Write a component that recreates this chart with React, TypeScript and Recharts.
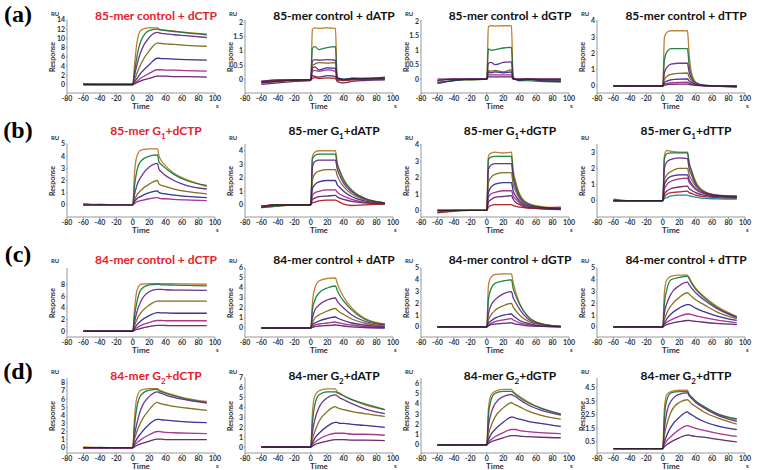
import React from "react";
import { LineChart, Line, XAxis, YAxis } from "recharts";

// sampling times (s) used for every sensorgram
const timePoints = [-60, -40, -20, 0, 2, 5, 10, 20, 30, 32, 35, 40, 50, 65, 90];
const xTicks = [-80, -60, -40, -20, 0, 20, 40, 60, 80, 100];

const rowLabels = ["(a)", "(b)", "(c)", "(d)"];

const titles = [
  "85-mer control + dCTP", "85-mer control + dATP", "85-mer control + dGTP", "85-mer control + dTTP",
  "85-mer G_1+dCTP", "85-mer G_1+dATP", "85-mer G_1+dGTP", "85-mer G_1+dTTP",
  "84-mer control + dCTP", "84-mer control + dATP", "84-mer control + dGTP", "84-mer control + dTTP",
  "84-mer G_2+dCTP", "84-mer G_2+dATP", "84-mer G_2+dGTP", "84-mer G_2+dTTP",
];

const yDomains: [number, number][] = [
  [-1.85, 14], [-0.45, 2.07], [-0.48, 2.05], [-0.43, 4.06],
  [-1, 5], [-0.9, 4.5], [-0.4, 4.05], [-1, 3.5],
  [-1, 10.9], [-0.9, 6], [-0.85, 5], [-0.85, 5],
  [-0.65, 8.6], [-0.6, 7], [-0.78, 6.5], [-0.32, 5.2],
];

const yTicks: number[][] = [
  [0, 2, 4, 6, 8, 10, 12, 14], [0, 0.5, 1, 1.5, 2], [0, 0.5, 1, 1.5, 2], [0, 1, 2, 3, 4],
  [0, 1, 2, 3, 4, 5], [0, 1, 2, 3, 4], [0, 1, 2, 3, 4], [0, 1, 2, 3],
  [0, 2, 4, 6, 8], [0, 1, 2, 3, 4, 5, 6], [0, 1, 2, 3, 4, 5], [0, 1, 2, 3, 4, 5],
  [0, 1, 2, 3, 4, 5, 6, 7, 8], [0, 1, 2, 3, 4, 5, 6, 7], [0, 1, 2, 3, 4, 5, 6], [0.5, 1.5, 2.5, 3.5, 4.5],
];

// RU responses at timePoints, one row per concentration
const a1 = [
  [0.1, 0, 0, 0, 4.0, 9.0, 11.8, 12.3, 12.3, 12.0, 11.9, 11.8, 11.6, 11.3, 10.9],
  [0.1, 0, 0, 0, 2.5, 6.0, 9.5, 11.7, 12.0, 11.9, 11.8, 11.7, 11.5, 11.2, 10.8],
  [0, 0, 0, 0, 1.8, 4.2, 7.2, 10.2, 11.3, 11.2, 11.1, 11.0, 10.8, 10.6, 10.2],
  [0, 0, 0, 0, 1.0, 2.4, 4.5, 7.3, 9.0, 9.0, 8.9, 8.8, 8.7, 8.5, 8.3],
  [0, 0, 0, 0, 0.6, 1.3, 2.5, 4.3, 5.7, 5.7, 5.6, 5.6, 5.5, 5.4, 5.3],
  [0, 0, 0, 0, 0.3, 0.7, 1.4, 2.4, 3.2, 3.2, 3.2, 3.1, 3.1, 3.0, 2.9],
  [0, 0, 0, 0, 0.15, 0.4, 0.8, 1.3, 1.8, 1.8, 1.8, 1.8, 1.7, 1.7, 1.6],
];
const a2 = [
  [-0.1, -0.05, 0, 0, 1.75, 1.8, 1.78, 1.8, 1.78, 0.1, 0.05, 0.02, 0.05, 0.05, 0.08],
  [-0.05, -0.05, 0, 0, 1.1, 1.15, 1.05, 1.12, 1.15, 0.08, 0.05, 0.02, 0.05, 0.05, 0.08],
  [-0.08, 0, -0.02, 0, 0.65, 0.7, 0.68, 0.7, 0.68, 0.05, 0.03, 0, 0.03, 0.05, 0.05],
  [-0.05, -0.02, 0, 0, 0.5, 0.55, 0.6, 0.58, 0.6, 0.05, 0.02, 0, 0.02, 0.05, 0.05],
  [-0.1, -0.05, 0, 0, 0.4, 0.45, 0.35, 0.42, 0.4, 0.05, 0.05, 0.02, 0.06, 0.04, 0.1],
  [-0.05, 0, 0, 0, 0.3, 0.33, 0.3, 0.35, 0.3, 0.02, 0, 0, 0.02, 0.03, 0.05],
  [-0.15, -0.1, -0.05, -0.02, 0.15, 0.12, 0.1, 0.15, 0.12, -0.05, -0.08, -0.1, -0.05, -0.02, 0],
  [-0.05, -0.02, 0, 0, 0.05, 0.08, 0.05, 0.07, 0.05, -0.02, 0, -0.02, 0, 0.02, 0.02],
];
const a3 = [
  [-0.1, -0.05, 0, 0, 1.82, 1.85, 1.84, 1.85, 1.85, 0.1, 0, -0.02, 0, -0.05, -0.05],
  [-0.12, -0.05, -0.02, 0, 1.05, 1.0, 1.02, 1.08, 1.1, 0.05, -0.02, -0.05, -0.05, -0.08, -0.1],
  [-0.05, 0, 0, 0, 0.55, 0.58, 0.5, 0.58, 0.6, 0.05, 0, -0.02, 0, -0.02, -0.03],
  [-0.05, 0, -0.02, 0, 0.3, 0.28, 0.3, 0.25, 0.33, 0.03, 0, 0, 0.02, 0, 0],
  [-0.15, -0.05, 0, 0, 0.25, 0.22, 0.25, 0.22, 0.25, 0.02, 0, -0.05, 0, -0.05, -0.08],
  [-0.05, 0, 0, 0, 0.15, 0.15, 0.15, 0.15, 0.15, 0, 0, 0, 0, 0, 0],
  [0, 0, 0, 0, 0.08, 0.08, 0.08, 0.08, 0.08, 0, 0, 0, 0, 0, 0],
];
const a4 = [
  [0, 0, 0, 0, 3.0, 3.3, 3.4, 3.4, 3.4, 2.0, 0.8, 0.25, 0.05, 0, -0.05],
  [0, 0, 0, 0, 1.6, 2.1, 2.3, 2.3, 2.3, 1.3, 0.6, 0.2, 0.05, 0, -0.05],
  [0, 0, 0, 0, 0.8, 1.15, 1.35, 1.4, 1.4, 0.85, 0.45, 0.15, 0.03, 0, -0.05],
  [0, 0, 0, 0, 0.4, 0.6, 0.72, 0.78, 0.8, 0.55, 0.3, 0.12, 0.02, 0, -0.05],
  [0, 0, 0, 0, 0.2, 0.3, 0.38, 0.42, 0.43, 0.3, 0.2, 0.08, 0.02, 0, 0],
  [0, 0, 0, 0, 0.1, 0.15, 0.2, 0.22, 0.23, 0.18, 0.12, 0.05, 0.02, 0, 0],
  [0, 0, 0, 0, 0.05, 0.08, 0.1, 0.12, 0.12, 0.1, 0.07, 0.04, 0.02, 0, 0],
];
const b1 = [
  [0, 0.05, 0, 0, 2.5, 4.0, 4.5, 4.6, 4.6, 4.0, 3.6, 3.2, 2.6, 2.1, 1.5],
  [0.1, 0, 0, 0, 1.5, 2.8, 3.6, 4.0, 4.1, 3.5, 3.3, 3.0, 2.5, 2.0, 1.6],
  [0, 0, 0, 0, 0.8, 1.6, 2.3, 3.1, 3.4, 2.9, 2.7, 2.4, 2.0, 1.6, 1.3],
  [0, 0, 0, 0, 0.4, 0.8, 1.2, 1.7, 2.0, 1.7, 1.6, 1.5, 1.3, 1.1, 0.9],
  [0, 0, 0, 0, 0.25, 0.5, 0.7, 1.0, 1.15, 1.0, 0.95, 0.9, 0.8, 0.7, 0.6],
  [0, 0, 0, 0, 0.1, 0.25, 0.35, 0.5, 0.6, 0.55, 0.5, 0.5, 0.45, 0.4, 0.35],
];
const b2 = [
  [-0.2, -0.1, 0, 0, 3.6, 3.9, 4.0, 4.0, 4.0, 3.2, 2.6, 1.9, 1.1, 0.5, 0.15],
  [-0.2, -0.1, 0, 0, 3.4, 3.65, 3.75, 3.75, 3.75, 3.0, 2.5, 1.8, 1.05, 0.5, 0.15],
  [-0.1, 0, 0, 0, 2.8, 3.2, 3.3, 3.3, 3.3, 2.7, 2.2, 1.6, 0.95, 0.45, 0.15],
  [-0.1, 0, 0, 0, 1.8, 2.3, 2.5, 2.6, 2.6, 2.2, 1.8, 1.35, 0.8, 0.4, 0.12],
  [-0.15, 0, 0, 0, 1.2, 1.5, 1.7, 1.8, 1.8, 1.5, 1.3, 1.0, 0.6, 0.3, 0.1],
  [-0.1, 0, 0, 0, 0.7, 0.9, 1.0, 1.1, 1.1, 0.95, 0.8, 0.65, 0.4, 0.2, 0.08],
  [-0.1, 0, 0, 0, 0.4, 0.5, 0.6, 0.65, 0.7, 0.6, 0.5, 0.4, 0.25, 0.15, 0.05],
  [-0.2, 0, 0, 0, 0.15, 0.2, 0.3, 0.35, 0.35, 0.3, 0.2, 0.05, -0.05, 0, 0.05],
];
const b3 = [
  [-0.1, 0, 0, 0, 3.3, 3.5, 3.55, 3.5, 3.55, 2.5, 1.8, 1.0, 0.45, 0.25, 0.15],
  [-0.1, 0, 0, 0, 3.1, 3.25, 3.3, 3.3, 3.3, 2.3, 1.6, 0.9, 0.4, 0.2, 0.1],
  [0, 0, 0, 0, 2.5, 2.75, 2.85, 2.85, 2.85, 2.0, 1.4, 0.8, 0.35, 0.2, 0.1],
  [0, 0, 0, 0, 1.7, 2.0, 2.2, 2.3, 2.3, 1.6, 1.2, 0.7, 0.3, 0.2, 0.1],
  [0, 0, 0, 0, 1.1, 1.4, 1.6, 1.7, 1.7, 1.2, 0.9, 0.55, 0.25, 0.15, 0.1],
  [0, 0, 0, 0, 0.8, 1.0, 1.1, 1.2, 1.2, 0.9, 0.7, 0.45, 0.2, 0.12, 0.08],
  [0, 0, 0, 0, 0.5, 0.65, 0.8, 0.85, 0.9, 0.7, 0.5, 0.35, 0.15, 0.1, 0.05],
  [-0.15, -0.05, 0, 0, 0.2, 0.3, 0.35, 0.35, 0.35, 0.3, 0.25, 0.2, 0.15, 0.15, 0.2],
];
const b4 = [
  [0, 0, 0, 0, 2.8, 3.1, 3.05, 3.0, 3.0, 2.4, 1.9, 1.2, 0.6, 0.35, 0.25],
  [0, 0, 0, 0, 2.6, 2.9, 2.95, 2.95, 2.95, 2.3, 1.8, 1.1, 0.55, 0.33, 0.25],
  [0.1, 0, 0, 0, 2.0, 2.4, 2.55, 2.65, 2.6, 2.0, 1.6, 1.0, 0.55, 0.35, 0.3],
  [0, 0, 0, 0, 1.3, 1.6, 1.8, 2.0, 2.0, 1.6, 1.3, 0.9, 0.5, 0.3, 0.25],
  [0, 0, 0, 0, 1.0, 1.3, 1.5, 1.6, 1.6, 1.3, 1.05, 0.75, 0.45, 0.3, 0.25],
  [0, 0, 0, 0, 0.7, 1.0, 1.2, 1.35, 1.4, 1.15, 0.95, 0.7, 0.45, 0.3, 0.25],
  [0, 0, 0, 0, 0.4, 0.6, 0.75, 0.85, 0.9, 0.75, 0.65, 0.5, 0.35, 0.25, 0.2],
  [0, 0, 0, 0, 0.25, 0.4, 0.5, 0.55, 0.6, 0.5, 0.45, 0.35, 0.25, 0.2, 0.15],
  [0, 0, 0, 0, 0.15, 0.2, 0.3, 0.35, 0.35, 0.3, 0.28, 0.22, 0.15, 0.12, 0.1],
];
const c1 = [
  [0, 0, 0, 0, 3.5, 7.0, 8.1, 8.2, 8.2, 8.2, 8.2, 8.2, 8.2, 8.15, 8.1],
  [0, 0, 0, 0, 2.5, 5.0, 7.2, 8.0, 8.1, 8.1, 8.0, 8.0, 7.95, 7.9, 7.8],
  [0, 0, 0, 0, 1.5, 3.3, 5.2, 6.8, 7.2, 7.2, 7.2, 7.15, 7.1, 7.1, 7.05],
  [0, 0, 0, 0, 0.9, 2.0, 3.2, 4.5, 5.2, 5.2, 5.2, 5.2, 5.2, 5.2, 5.2],
  [0, 0, 0, 0, 0.5, 1.1, 1.8, 2.7, 3.2, 3.2, 3.15, 3.15, 3.1, 3.1, 3.1],
  [0, 0, 0, 0, 0.3, 0.6, 1.0, 1.5, 1.85, 1.85, 1.85, 1.8, 1.8, 1.8, 1.8],
  [0, 0, 0, 0, 0.15, 0.3, 0.5, 0.8, 1.0, 1.0, 1.0, 0.98, 0.95, 0.95, 0.95],
];
const c2 = [
  [0, 0, 0, 0, 2.5, 4.0, 4.7, 4.95, 5.0, 4.5, 3.9, 3.1, 2.0, 1.0, 0.4],
  [0, 0, 0, 0, 1.8, 2.8, 3.5, 4.0, 4.2, 3.8, 3.3, 2.7, 1.8, 0.9, 0.35],
  [0, 0, 0, 0, 1.0, 1.8, 2.3, 2.8, 3.0, 2.7, 2.4, 2.0, 1.3, 0.7, 0.3],
  [0, 0, 0, 0, 0.5, 1.0, 1.3, 1.7, 1.95, 1.8, 1.6, 1.35, 0.9, 0.5, 0.2],
  [0, 0, 0, 0, 0.3, 0.5, 0.7, 0.95, 1.1, 1.0, 0.9, 0.75, 0.5, 0.3, 0.1],
  [0, 0, 0, 0, 0.15, 0.3, 0.4, 0.5, 0.6, 0.55, 0.5, 0.42, 0.3, 0.15, 0.05],
  [0, 0, 0, 0, 0.05, 0.15, 0.2, 0.25, 0.3, 0.28, 0.25, 0.2, 0.12, 0.05, 0],
];
const c3 = [
  [0, 0, 0, 0, 3.5, 4.2, 4.45, 4.5, 4.5, 3.8, 3.0, 2.0, 0.9, 0.3, 0.05],
  [0, 0, 0, 0, 2.3, 3.2, 3.7, 3.9, 4.0, 3.3, 2.7, 1.9, 0.9, 0.3, 0.05],
  [0, 0, 0, 0, 1.1, 1.8, 2.3, 2.8, 3.0, 2.5, 2.1, 1.5, 0.7, 0.25, 0.05],
  [0, 0, 0, 0, 0.6, 1.0, 1.4, 1.8, 2.0, 1.7, 1.4, 1.0, 0.5, 0.2, 0.05],
  [0, 0, 0, 0, 0.3, 0.5, 0.75, 1.0, 1.1, 0.95, 0.8, 0.55, 0.3, 0.1, 0.02],
  [0, 0, 0, 0, 0.15, 0.3, 0.45, 0.6, 0.7, 0.6, 0.5, 0.35, 0.2, 0.08, 0.02],
  [0, 0, 0, 0, 0.1, 0.2, 0.25, 0.3, 0.35, 0.3, 0.25, 0.2, 0.1, 0.05, 0.02],
];
const c4 = [
  [0, 0, 0, 0, 3.0, 4.0, 4.3, 4.4, 4.4, 4.2, 3.8, 3.3, 2.6, 1.8, 0.9],
  [0, 0, 0, 0, 2.0, 3.2, 4.0, 4.2, 4.3, 4.1, 3.7, 3.2, 2.5, 1.7, 0.85],
  [0, 0, 0, 0, 1.2, 2.0, 2.8, 3.5, 3.8, 3.6, 3.3, 2.9, 2.3, 1.6, 0.8],
  [0, 0, 0, 0, 0.6, 1.2, 1.8, 2.5, 2.9, 2.8, 2.6, 2.3, 1.9, 1.3, 0.7],
  [0, 0, 0, 0, 0.3, 0.7, 1.1, 1.6, 1.9, 1.9, 1.8, 1.6, 1.3, 0.95, 0.55],
  [0, 0, 0, 0, 0.2, 0.4, 0.6, 0.9, 1.1, 1.1, 1.05, 0.95, 0.8, 0.6, 0.35],
  [0, 0, 0, 0, 0.1, 0.2, 0.3, 0.45, 0.55, 0.55, 0.52, 0.48, 0.4, 0.3, 0.2],
];
const d1 = [
  [0.1, 0, 0, 0, 3.5, 6.2, 7.1, 7.3, 7.3, 7.1, 7.0, 6.8, 6.5, 6.1, 5.7],
  [0, 0.05, 0, 0, 2.5, 5.0, 6.5, 7.1, 7.2, 7.0, 6.9, 6.7, 6.4, 6.0, 5.6],
  [0, 0, 0, 0, 1.5, 3.0, 4.8, 6.3, 6.9, 6.8, 6.7, 6.5, 6.2, 5.9, 5.5],
  [0, 0, 0, 0, 1.0, 2.0, 3.2, 4.7, 5.6, 5.5, 5.4, 5.3, 5.1, 4.9, 4.6],
  [0, 0, 0, 0, 0.5, 1.1, 1.8, 2.9, 3.5, 3.5, 3.45, 3.4, 3.3, 3.2, 3.1],
  [0, 0, 0, 0, 0.3, 0.6, 1.0, 1.6, 2.0, 2.0, 1.95, 1.9, 1.85, 1.8, 1.75],
  [0, 0, 0, 0, 0.1, 0.3, 0.5, 0.8, 1.05, 1.05, 1.05, 1.0, 1.0, 1.0, 1.0],
];
const d2 = [
  [0, 0, 0, 0, 3.5, 5.2, 5.7, 5.9, 5.9, 5.6, 5.5, 5.2, 4.8, 4.3, 3.8],
  [0, 0, 0, 0, 2.5, 4.3, 5.3, 5.6, 5.6, 5.5, 5.4, 5.2, 4.8, 4.4, 3.8],
  [0, 0, 0, 0, 1.5, 2.8, 4.0, 5.0, 5.3, 5.2, 5.0, 4.8, 4.4, 3.9, 3.4],
  [0, 0, 0, 0, 0.8, 1.6, 2.6, 3.6, 4.1, 4.0, 3.9, 3.8, 3.6, 3.4, 3.1],
  [0, 0, 0, 0, 0.4, 0.9, 1.4, 2.1, 2.5, 2.5, 2.4, 2.4, 2.3, 2.2, 2.0],
  [0, 0, 0, 0, 0.2, 0.5, 0.8, 1.2, 1.4, 1.4, 1.4, 1.4, 1.3, 1.3, 1.2],
  [0, 0, 0, 0, 0.1, 0.25, 0.4, 0.6, 0.75, 0.75, 0.75, 0.75, 0.7, 0.7, 0.65],
];
const d3 = [
  [0, 0, 0, 0, 3.5, 4.8, 5.2, 5.4, 5.4, 5.2, 5.0, 4.7, 4.2, 3.6, 3.0],
  [0, 0, 0, 0, 2.8, 4.3, 5.0, 5.2, 5.2, 5.1, 4.9, 4.6, 4.1, 3.6, 3.0],
  [0, 0, 0, 0, 1.8, 3.0, 4.0, 4.7, 4.9, 4.8, 4.7, 4.4, 3.9, 3.4, 2.9],
  [0, 0, 0, 0, 1.0, 1.8, 2.7, 3.6, 4.1, 4.0, 3.9, 3.7, 3.3, 2.9, 2.5],
  [0, 0, 0, 0, 0.5, 1.0, 1.5, 2.2, 2.7, 2.7, 2.6, 2.5, 2.3, 2.1, 1.8],
  [0, 0, 0, 0, 0.3, 0.5, 0.8, 1.2, 1.5, 1.5, 1.5, 1.4, 1.3, 1.2, 1.1],
  [0, 0, 0, 0, 0.15, 0.3, 0.45, 0.7, 0.9, 0.9, 0.9, 0.85, 0.8, 0.75, 0.7],
];
const d4 = [
  [0, 0, 0, 0, 3.0, 4.0, 4.2, 4.3, 4.3, 4.0, 3.8, 3.5, 3.1, 2.6, 2.1],
  [0, 0, 0, 0, 2.3, 3.6, 4.1, 4.2, 4.2, 4.0, 3.8, 3.5, 3.1, 2.6, 2.2],
  [0, 0, 0, 0, 1.5, 2.7, 3.5, 4.0, 4.1, 3.9, 3.7, 3.4, 3.0, 2.5, 2.0],
  [0, 0, 0, 0, 1.0, 1.8, 2.7, 3.4, 3.6, 3.5, 3.3, 3.1, 2.7, 2.3, 1.8],
  [0, 0, 0, 0, 0.5, 1.0, 1.6, 2.3, 2.7, 2.6, 2.5, 2.3, 2.0, 1.7, 1.4],
  [0, 0, 0, 0, 0.3, 0.6, 0.9, 1.4, 1.7, 1.65, 1.6, 1.5, 1.35, 1.15, 0.9],
  [0, 0, 0, 0, 0.15, 0.3, 0.5, 0.8, 1.0, 1.0, 0.95, 0.9, 0.85, 0.7, 0.5],
];

const panelCurves = [a1, a2, a3, a4, b1, b2, b3, b4, c1, c2, c3, c4, d1, d2, d3, d4];

// styling / layout
const PALETTE = ["#e8a040", "#2fa05a", "#8a3fb0", "#a08a30", "#4a3fb8", "#d040b0", "#7a3a8a", "#d83030", "#30a8c8"];
const COL_X = [67, 245, 421, 597];
const ROWS = [
  { top: 20, bottom: 93, titleY: 15, ruY: 14, labelY: 14 },
  { top: 144, bottom: 217, titleY: 132, ruY: 138, labelY: 130 },
  { top: 268, bottom: 337, titleY: 259, ruY: 261, labelY: 254 },
  { top: 378, bottom: 453, titleY: 377, ruY: 372, labelY: 371 },
];
const PLOT_W = 148;
const FONT = "Lato, 'Open Sans', sans-serif";

function Title({ text, color }: { text: string; color: string }) {
  const parts = text.split(/_(\d)/);
  return (
    <span style={{ color }}>
      {parts.map((p, i) => (i % 2 === 1 ? <sub key={i} style={{ fontSize: 8 }}>{p}</sub> : <span key={i}>{p}</span>))}
    </span>
  );
}

function Panel({ index }: { index: number }) {
  const row = ROWS[Math.floor(index / 4)];
  const x0 = COL_X[index % 4];
  const curves = panelCurves[index];
  const data = timePoints.map((t, i) => {
    const r: Record<string, number> = { t };
    curves.forEach((c, k) => (r["s" + k] = c[i]));
    return r;
  });
  const plotH = row.bottom - row.top;
  const mTop = 6;
  const chartLeft = x0 - 40;
  const tickStyle = { fontSize: 7, fontWeight: 700, fill: "#333", fontFamily: FONT };
  const red = index % 4 === 0;

  return (
    <>
      <div style={{ position: "absolute", left: chartLeft, top: row.top - mTop }}>
        <LineChart
          width={40 + PLOT_W + 10}
          height={mTop + plotH + 16}
          data={data}
          margin={{ top: mTop, right: 10, left: 22, bottom: 0 }}
        >
          <XAxis
            dataKey="t"
            type="number"
            domain={[-80, 100]}
            ticks={xTicks}
            allowDataOverflow
            height={16}
            stroke="#999"
            tickSize={2}
            tickMargin={1}
            tick={tickStyle}
            interval={0}
          />
          <YAxis
            type="number"
            domain={yDomains[index]}
            ticks={yTicks[index]}
            allowDataOverflow
            width={18}
            stroke="#999"
            tickSize={1}
            tickMargin={1}
            tick={tickStyle}
            interval={0}
          />
          {curves.map((_, k) => (
            <Line
              key={"c" + k}
              type="monotone"
              dataKey={"s" + k}
              stroke={PALETTE[k % PALETTE.length]}
              strokeWidth={1.3}
              dot={false}
              isAnimationActive={false}
            />
          ))}
          {curves.map((_, k) => (
            <Line
              key={"f" + k}
              type="monotone"
              dataKey={"s" + k}
              stroke="#222"
              strokeOpacity={0.55}
              strokeWidth={0.5}
              dot={false}
              isAnimationActive={false}
            />
          ))}
        </LineChart>
      </div>
      <div
        style={{
          position: "absolute",
          left: x0 - 16,
          top: row.ruY - 4,
          fontSize: 6,
          lineHeight: "7px",
          fontWeight: 700,
          color: "#333",
        }}
      >
        RU
      </div>
      <div
        style={{
          position: "absolute",
          left: x0 - 15,
          top: (row.top + row.bottom) / 2,
          transform: "translate(-50%, -50%) rotate(-90deg)",
          fontSize: 7,
          fontWeight: 700,
          color: "#333",
          whiteSpace: "nowrap",
        }}
      >
        Response
      </div>
      <div
        style={{
          position: "absolute",
          left: x0 + PLOT_W / 2,
          top: row.bottom + 12.5,
          transform: "translate(-50%, -50%)",
          fontSize: 8,
          lineHeight: "8px",
          fontWeight: 700,
          color: "#333",
        }}
      >
        Time
      </div>
      <div
        style={{
          position: "absolute",
          left: x0 + PLOT_W + 1,
          top: row.bottom + 9,
          fontSize: 6,
          lineHeight: "7px",
          fontWeight: 700,
          color: "#333",
        }}
      >
        s
      </div>
      <div
        style={{
          position: "absolute",
          left: x0 + 89,
          top: row.titleY,
          transform: "translate(-50%, -50%)",
          fontSize: 12,
          fontWeight: 700,
          whiteSpace: "nowrap",
        }}
      >
        <Title text={titles[index]} color={red ? "#e8202a" : "#111"} />
      </div>
    </>
  );
}

export default function App() {
  return (
    <div
      style={{
        position: "absolute",
        left: 0,
        top: 0,
        width: 759,
        height: 470,
        background: "#fff",
        fontFamily: FONT,
        overflow: "hidden",
      }}
    >
      {rowLabels.map((lab, r) => (
        <div
          key={lab}
          style={{
            position: "absolute",
            left: 18,
            top: ROWS[r].labelY,
            transform: "translate(-50%, -50%)",
            fontFamily: "'Liberation Serif', 'DejaVu Serif', serif",
            fontWeight: 700,
            fontSize: 24,
          }}
        >
          {lab}
        </div>
      ))}
      {titles.map((_, i) => (
        <Panel key={i} index={i} />
      ))}
    </div>
  );
}
